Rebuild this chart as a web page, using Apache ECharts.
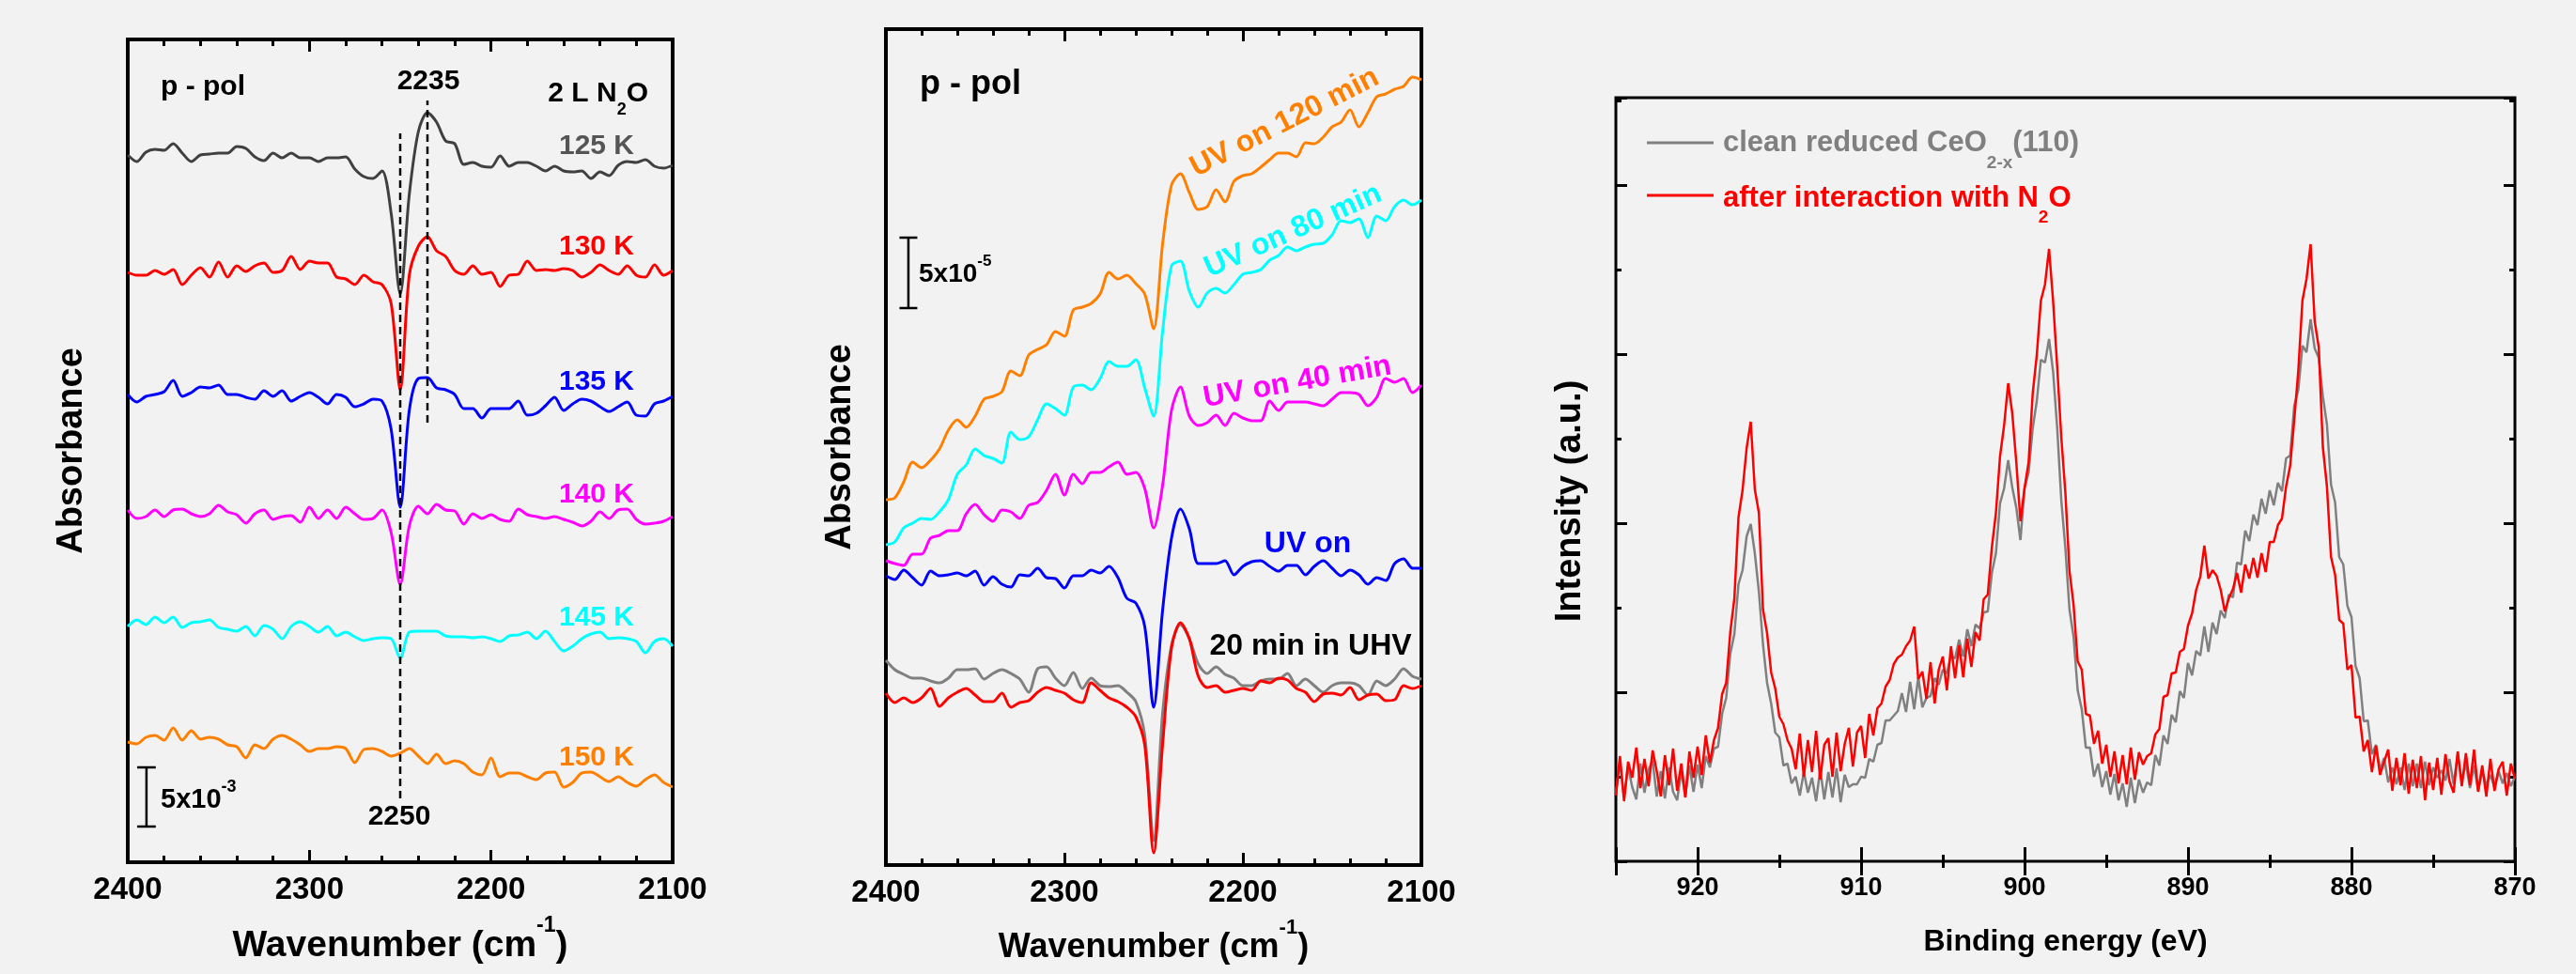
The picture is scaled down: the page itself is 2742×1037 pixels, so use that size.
<!DOCTYPE html>
<html>
<head>
<meta charset="utf-8">
<script src="https://cdn.jsdelivr.net/npm/echarts@6.0.0/dist/echarts.min.js"></script>
<style>
html,body{margin:0;padding:0;background:#f2f2f2;}
#chart{width:2742px;height:1037px;}
</style>
</head>
<body>
<div id="chart"></div>
<script>
// ================= DATA =================
// IR spectra sampling grid (cm^-1), 2400 -> 2100 every 5 cm^-1
const wavenumbers = Array.from({length: 61}, (_, i) => 2400 - 5 * i);
const irTicks = [2100, 2200, 2300, 2400];

// Panel 1: 2 L N2O, temperature series (offset absorbance, a.u.)
const k125 = [75.3,74.6,75.6,75.9,75.8,76.5,75.5,74.6,75.3,75.4,75.5,75.5,76.2,76.0,75.1,74.7,75.5,75.0,75.5,75.0,75.0,74.6,75.0,75.0,75.1,73.8,73.0,72.8,73.6,69.1,60.5,71.1,77.8,79.8,78.8,76.8,76.5,74.3,74.5,74.1,74.0,75.2,74.1,74.5,74.5,74.1,73.6,74.1,73.6,73.5,73.6,72.8,73.5,73.1,74.2,74.6,74.5,74.8,74.1,73.9,74.2];
const k130 = [62.8,62.5,62.5,63.0,62.6,63.1,61.5,62.5,63.3,62.3,63.9,62.3,63.5,62.9,63.5,63.8,62.8,63.0,64.5,63.1,64.0,63.8,63.8,62.3,62.1,61.5,62.5,61.8,61.5,59.5,50.3,62.5,65.6,66.6,65.1,64.5,63.0,62.6,63.5,62.6,62.8,61.3,62.5,62.6,64.0,63.0,63.1,63.0,63.2,63.0,62.3,62.8,63.6,63.0,62.6,63.5,62.5,62.3,63.6,62.5,63.0];
const k135 = [49.8,49.0,49.6,49.8,50.1,51.3,49.6,50.0,50.6,50.5,50.8,49.8,49.8,49.5,49.3,50.2,49.6,50.2,49.1,49.6,50.0,49.5,48.8,49.8,49.5,48.5,48.8,49.3,49.1,46.1,37.8,48.1,51.5,51.6,50.5,50.3,49.8,48.3,48.3,47.3,48.3,48.3,48.3,49.1,47.6,47.8,48.6,49.5,48.1,48.8,49.3,49.1,48.5,48.0,48.5,49.0,47.6,47.5,48.8,49.1,49.6];
const k140 = [37.5,36.6,36.8,37.5,36.8,37.5,37.6,37.1,36.8,37.1,38.0,37.3,37.0,36.1,37.1,37.5,36.5,36.8,36.9,36.2,37.8,36.6,37.5,36.6,37.8,37.1,36.5,36.6,37.5,35.1,29.6,35.8,37.9,37.1,38.1,37.5,37.4,36.0,37.1,36.6,37.0,36.5,36.3,37.6,37.0,36.8,36.6,36.8,36.5,36.2,35.8,36.3,37.3,36.6,37.5,37.6,36.5,36.0,36.1,36.3,36.8];
const k145 = [25.1,25.8,25.3,26.1,25.5,26.1,25.0,25.5,25.6,25.8,25.0,24.8,24.6,25.1,24.1,25.2,24.8,23.8,25.1,25.6,25.1,24.5,25.1,24.1,24.5,24.0,23.6,23.8,23.9,23.8,21.7,24.5,24.6,24.6,24.6,24.1,24.0,24.0,23.9,24.0,23.8,23.5,24.1,24.2,24.5,23.8,24.6,23.5,22.5,23.0,23.8,24.3,24.5,23.8,23.9,23.8,23.5,22.3,23.5,23.8,23.0];
const k150 = [12.8,12.6,13.3,13.5,13.0,14.3,13.0,14.0,13.1,13.3,13.1,12.5,12.3,11.1,12.5,12.1,13.1,13.5,13.1,12.5,11.8,12.1,12.1,12.3,12.1,10.6,12.0,12.1,11.8,11.3,11.6,12.1,11.3,10.5,11.5,10.5,10.8,10.5,9.6,9.3,11.1,9.1,9.5,9.5,9.1,8.8,9.5,9.6,8.0,8.5,9.5,9.6,9.1,8.6,9.1,8.5,8.1,8.8,9.3,8.5,8.0];

// Panel 2: UV irradiation series (offset absorbance, a.u.)
const uv120 = [38.9,39.1,40.8,42.9,42.3,43.1,44.3,46.3,47.4,46.6,47.8,49.6,49.9,50.4,52.6,52.1,54.3,54.9,55.4,56.8,56.3,59.1,59.4,59.8,60.8,63.1,62.4,62.8,61.9,60.8,57.1,66.1,72.4,73.6,71.6,69.8,70.1,71.9,70.6,72.8,73.4,73.6,74.3,75.1,75.8,75.8,75.4,76.9,76.8,77.5,78.6,79.1,80.4,78.6,80.1,81.8,82.1,82.6,82.9,83.9,83.6];
const uv80 = [34.1,34.4,35.9,36.4,36.9,36.8,37.6,38.9,41.6,42.6,44.3,43.6,43.3,42.8,46.1,45.3,45.6,47.4,49.1,48.6,47.9,50.9,51.1,50.6,51.8,53.6,53.1,53.1,53.8,50.8,47.8,56.8,63.8,64.3,61.1,59.4,60.9,61.4,60.9,61.8,62.9,63.1,63.4,64.4,64.9,65.8,65.4,65.8,66.1,66.2,67.1,68.6,68.4,68.8,66.8,69.1,68.6,70.1,70.8,70.3,70.8];
const uv40 = [32.4,32.1,31.9,33.1,33.1,34.8,35.1,35.6,35.6,37.4,38.4,37.3,36.6,37.8,37.6,36.9,38.3,38.6,39.9,41.6,39.4,41.6,40.6,41.8,41.8,42.4,42.9,41.6,41.8,40.1,35.9,40.4,48.4,50.9,47.8,46.8,47.1,47.9,46.8,48.1,47.6,47.3,47.3,49.4,48.4,49.3,49.3,49.3,49.1,48.9,49.6,50.3,50.3,50.1,48.9,49.8,51.8,51.4,51.8,50.3,51.1];
const uvOn = [30.8,30.4,31.4,30.6,29.8,31.3,30.8,30.9,31.1,30.8,31.3,29.8,30.7,29.9,29.6,30.9,30.8,31.6,30.6,30.5,29.5,30.8,30.8,31.4,31.1,31.8,30.6,28.4,27.9,25.4,16.8,27.1,34.8,37.9,35.8,32.1,32.1,32.1,32.4,30.9,31.8,32.3,32.4,31.8,31.3,31.9,31.9,30.9,31.8,32.4,31.6,30.8,31.4,30.9,29.9,30.6,30.3,32.1,32.6,31.6,31.6];
const uhvBefore = [21.8,20.8,20.3,19.9,19.9,19.6,19.4,19.9,20.8,20.8,20.9,19.8,20.4,20.8,20.4,19.8,18.4,20.9,21.1,19.9,19.1,20.5,18.8,19.9,19.1,19.0,19.1,18.4,17.4,13.8,2.6,16.1,23.4,25.6,24.1,21.4,20.4,21.1,20.3,19.9,19.1,19.1,19.6,19.8,19.8,20.4,19.1,19.8,19.1,18.4,19.1,19.4,19.4,19.1,18.1,19.6,19.1,19.8,20.9,20.1,19.8];
const uhv20 = [18.3,17.3,17.8,17.3,17.8,18.8,16.9,17.8,18.4,18.8,18.1,17.4,17.4,18.3,16.8,17.3,17.5,18.4,18.9,18.6,18.3,17.6,17.3,19.4,18.6,17.8,17.4,16.8,15.8,12.8,1.3,12.8,23.1,25.8,24.1,20.1,18.9,19.1,18.4,18.6,18.8,18.6,19.6,19.4,19.9,19.7,18.8,18.4,17.4,18.2,18.3,18.1,18.9,17.6,18.1,18.2,17.5,17.6,19.1,18.8,19.1];

// Panel 3: Ce 3d XPS, 925 -> 870 eV every 0.25 eV (intensity, a.u.)
const bindingEnergy = Array.from({length: 221}, (_, i) => +(925 - 0.25 * i).toFixed(2));
const xpsTicks = [870, 880, 890, 900, 910, 920];
const xpsClean = [
7.2,10.6,6.8,10.1, 7.9,6.6,10.4,7.3, 9.8,10.7,6.9,9.6, 6.7,10.0,7.4,6.5, 9.6,6.9,10.2,7.4,
10.3,7.8,11.2,10.0, 12.0,12.2,15.7,17.4, 22.1,24.2,29.5,31.0, 34.6,35.9,32.8,28.7, 23.1,19.0,16.8,13.7,
13.2,10.2,10.4,8.3, 9.0,7.0,9.5,7.3, 8.9,6.4,9.8,6.6, 9.5,6.8,9.9,6.3, 9.2,7.9,8.2,8.2,
9.0,8.9,10.9,10.6, 12.4,12.6,15.0,15.0, 15.5,16.0,17.9,15.9, 19.1,16.2,19.6,16.4, 17.4,17.6,19.5,18.8,
20.4,20.0,21.9,21.6, 23.6,21.8,24.7,22.9, 25.2,24.8,26.5,26.6, 30.7,32.8,38.1,39.7, 42.7,39.8,37.6,34.2,
39.7,41.4,46.1,49.0, 53.4,53.1,55.6,52.1, 46.1,38.4,33.3,26.8, 23.9,18.2,16.2,12.1, 12.1,9.0,10.4,7.9,
9.6,7.1,9.3,6.5, 8.3,5.8,8.9,6.2, 8.7,7.3,8.4,8.1, 11.3,10.2,13.4,12.5, 15.6,14.8,18.1,17.4,
21.1,19.8,22.4,21.9, 25.0,22.3,25.4,24.2, 26.7,25.9,28.4,28.1, 31.8,31.6,35.2,34.1, 36.9,35.8,38.6,37.0,
39.5,37.9,40.3,39.4, 42.9,43.2,48.5,50.2, 54.9,54.2,57.7,54.6, 53.6,49.5,46.5,40.1, 38.2,32.4,31.6,27.2,
26.0,20.8,19.5,14.9, 15.0,11.4,12.4,9.7, 11.0,8.4,10.0,8.2, 10.0,7.6,10.4,8.0, 10.4,7.8,10.6,8.1,
10.0,8.9,9.7,8.6, 10.9,8.2,11.4,8.6, 10.4,7.8,10.2,7.5, 9.6,8.1,9.2,7.9, 9.6,8.3,9.4,8.0,
9.0];
const xpsAfterN2O = [
7.0,11.2,6.4,10.6, 8.9,12.1,7.8,10.9, 8.0,11.8,9.6,6.9, 11.3,8.1,12.0,7.5, 10.4,6.8,11.7,8.9,
12.2,9.2,13.4,10.5, 12.9,14.2,17.8,19.0, 24.4,28.0,36.6,39.5, 44.0,46.8,39.6,37.1, 26.8,24.3,20.1,18.4,
15.4,14.6,12.9,12.0, 9.8,13.6,9.0,12.9, 9.5,13.9,8.7,12.4, 13.1,9.0,13.7,9.6, 12.5,14.2,10.1,13.7,
14.4,11.0,15.7,13.4, 16.3,16.8,18.6,19.3, 21.0,21.7,22.0,22.9, 23.5,25.0,19.4,20.2, 17.3,21.2,16.8,20.4,
21.8,18.2,22.9,19.5, 23.0,19.6,23.7,20.7, 24.4,23.5,27.9,28.4, 33.4,37.1,43.1,46.4, 50.9,47.7,42.4,36.2,
39.7,42.5,49.8,53.9, 59.7,61.4,65.2,59.6, 52.6,45.1,39.2,30.9, 27.3,21.3,20.4,15.7, 15.5,12.5,13.9,10.4,
12.4,9.0,11.7,8.3, 11.3,8.2,12.1,8.7, 11.6,10.3,11.2,11.5, 13.5,14.1,17.5,17.7, 20.0,20.1,22.3,22.6,
25.1,26.4,28.9,30.3, 33.6,30.1,31.0,30.4, 28.9,26.6,28.0,29.0, 30.7,28.6,31.6,30.1, 32.3,30.2,32.8,30.8,
34.0,34.0,35.8,36.5, 39.9,42.1,47.0,52.3, 59.7,62.0,65.7,57.5, 54.7,44.1,39.9,32.4, 30.5,25.7,25.3,20.4,
20.9,15.3,15.4,11.7, 12.9,9.5,12.3,9.2, 10.6,11.9,7.5,11.0, 8.1,11.5,7.2,10.8, 7.8,11.2,6.5,10.5,
7.6,11.0,7.1,11.4, 8.5,7.3,11.7,8.0, 11.5,8.1,11.9,7.4, 10.2,6.9,10.9,7.5, 9.8,10.6,7.0,10.4,
8.8];

// Annotation marks (data coordinates): peak guides and scale bars
const guide2250 = [2250, 6.8, 77.6];
const guide2235 = [2235, 46.8, 81.1];
const scaleBarA = [2389.7, 5.1, 3.8, 10.1];   // x, half cap width, y0, y1 (5x10^-3)
const scaleBarB = [2387.4, 5.0, 59.3, 66.8];  // (5x10^-5)

// ================= CHART =================
const F = "'Liberation Sans', Arial, Helvetica, sans-serif";
const B = s => `bold ${s}px ${F}`;

function wnRich(size) {
  return {
    a: {fontSize: size, fontWeight: 'bold', fontFamily: F, color: '#000', lineHeight: size, padding: [14, 0, 0, 0], verticalAlign: 'top'},
    s: {fontSize: Math.round(size * 0.6), fontWeight: 'bold', fontFamily: F, color: '#000', lineHeight: Math.round(size * 0.6), verticalAlign: 'top'}
  };
}

function irX(grid, pos, withLabel, titleSize) {
  return {
    type: 'value', gridIndex: grid, position: pos,
    min: irTicks[0], max: irTicks[irTicks.length - 1], interval: irTicks[1] - irTicks[0], inverse: true,
    axisLine: {show: false},
    axisTick: {show: true, inside: true, length: 13, lineStyle: {color: '#000', width: 3}},
    minorTick: {show: true, splitNumber: 5, length: 7, lineStyle: {color: '#000', width: 3}},
    axisLabel: {show: withLabel, margin: 13, color: '#000', fontFamily: F, fontWeight: 'bold', fontSize: 33,
      formatter: v => String(v)},
    splitLine: {show: false}, minorSplitLine: {show: false},
    name: withLabel ? '{a|Wavenumber (cm}{s|-1}{a|)}' : '',
    nameLocation: 'middle', nameGap: 56,
    nameTextStyle: {rich: wnRich(titleSize || 36)}
  };
}
function xpsX(pos, withLabel) {
  return {
    type: 'value', gridIndex: 2, position: pos,
    min: xpsTicks[0], max: 925, interval: xpsTicks[1] - xpsTicks[0], inverse: true,
    axisLine: {show: false},
    axisTick: {show: true, inside: true, length: 15, lineStyle: {color: '#000', width: 3}},
    minorTick: {show: true, splitNumber: 2, length: 7, lineStyle: {color: '#000', width: 3}},
    axisLabel: {show: withLabel, margin: 15, color: '#000', fontFamily: F, fontWeight: 'bold', fontSize: 27,
      formatter: v => (xpsTicks.indexOf(v) >= 0 ? String(v) : '')},
    splitLine: {show: false}, minorSplitLine: {show: false},
    name: withLabel ? 'Binding energy (eV)' : '',
    nameLocation: 'middle', nameGap: 70,
    nameTextStyle: {fontFamily: F, fontWeight: 'bold', fontSize: 32, color: '#000'}
  };
}
function hiddenY(grid, max, name, gap) {
  return {
    type: 'value', gridIndex: grid, min: 0, max: max,
    axisLine: {show: false}, axisTick: {show: false}, axisLabel: {show: false}, splitLine: {show: false},
    name: name, nameLocation: 'middle', nameGap: gap,
    nameTextStyle: {fontFamily: F, fontWeight: 'bold', fontSize: 38, color: '#000'}
  };
}
function xpsY(pos, withName) {
  return {
    type: 'value', gridIndex: 2, position: pos, min: 0, max: 81.3, interval: 18,
    axisLine: {show: false},
    axisTick: {show: true, inside: true, length: 12, lineStyle: {color: '#000', width: 3}},
    minorTick: {show: true, splitNumber: 2, length: 6, lineStyle: {color: '#000', width: 3}},
    axisLabel: {show: false}, splitLine: {show: false}, minorSplitLine: {show: false},
    name: withName ? 'Intensity (a.u.)' : '', nameLocation: 'middle', nameGap: 29,
    nameTextStyle: {fontFamily: F, fontWeight: 'bold', fontSize: 38, color: '#000', padding: [0, 46, 0, 0]}
  };
}

function spec(xi, yi, xs, ys, color, width, smooth) {
  return {
    type: 'line', xAxisIndex: xi, yAxisIndex: yi,
    data: xs.map((x, i) => [x, ys[i]]),
    showSymbol: false, symbol: 'none', smooth: smooth, silent: true,
    lineStyle: {color: color, width: width}, itemStyle: {color: color}
  };
}
function guide(xi, yi, g) {
  return {type: 'line', xAxisIndex: xi, yAxisIndex: yi, data: [[g[0], g[1]], [g[0], g[2]]],
    showSymbol: false, symbol: 'none', silent: true,
    lineStyle: {color: '#000', width: 2.5, type: [8, 5]}};
}
function scaleBar(xi, yi, s) {
  const [x, h, y0, y1] = s;
  return {type: 'line', xAxisIndex: xi, yAxisIndex: yi,
    data: [[x + h, y0], [x - h, y0], [x, y0], [x, y1], [x + h, y1], [x - h, y1]],
    showSymbol: false, symbol: 'none', silent: true,
    lineStyle: {color: '#000', width: 2.5}};
}

function label(text, x, y, size, color, align, rotDeg) {
  return {type: 'text', x: x, y: y, rotation: (rotDeg || 0) * Math.PI / 180, z: 10,
    style: {text: text, font: B(size), fill: color || '#000',
      align: align || 'center', textAlign: align || 'center', verticalAlign: 'middle', textVerticalAlign: 'middle'}};
}
function tok(font, lh, padTop, color) {
  return {font: font, lineHeight: lh, padding: [padTop, 0, 0, 0], verticalAlign: 'top', textVerticalAlign: 'top', fill: color, color: color};
}
function richLabel(text, x, y, align, rich, color) {
  return {type: 'text', x: x, y: y, z: 10,
    style: {text: text, rich: rich, fill: color, align: align, textAlign: align, verticalAlign: 'top', textVerticalAlign: 'top'}};
}

const option = {
  animation: false,
  backgroundColor: '#f2f2f2',
  grid: [
    {left: 136, top: 42, width: 580, height: 876, show: true, borderColor: '#000', borderWidth: 4, backgroundColor: 'transparent'},
    {left: 943, top: 31, width: 570, height: 890, show: true, borderColor: '#000', borderWidth: 4, backgroundColor: 'transparent'},
    {left: 1720, top: 104, width: 957, height: 813, show: true, borderColor: '#000', borderWidth: 3, backgroundColor: 'transparent'}
  ],
  xAxis: [irX(0, 'bottom', true, 39), irX(0, 'top', false), irX(1, 'bottom', true, 36), irX(1, 'top', false), xpsX('bottom', true), xpsX('top', false)],
  yAxis: [hiddenY(0, 87.6, 'Absorbance', 40), hiddenY(1, 89, 'Absorbance', 29), xpsY('left', true), xpsY('right', false)],
  series: [
    spec(0, 0, wavenumbers, k125, '#404040', 3, 0.3),
    spec(0, 0, wavenumbers, k130, '#ff0000', 3, 0.3),
    spec(0, 0, wavenumbers, k135, '#0000ff', 3, 0.3),
    spec(0, 0, wavenumbers, k140, '#ff00ff', 3, 0.3),
    spec(0, 0, wavenumbers, k145, '#00ffff', 3, 0.3),
    spec(0, 0, wavenumbers, k150, '#ff8000', 3, 0.3),
    guide(0, 0, guide2250), guide(0, 0, guide2235), scaleBar(0, 0, scaleBarA),
    spec(2, 1, wavenumbers, uv120, '#ff8000', 3, 0.3),
    spec(2, 1, wavenumbers, uv80, '#00ffff', 3, 0.3),
    spec(2, 1, wavenumbers, uv40, '#ff00ff', 3, 0.3),
    spec(2, 1, wavenumbers, uvOn, '#0000ff', 3, 0.3),
    spec(2, 1, wavenumbers, uhvBefore, '#808080', 3, 0.3),
    spec(2, 1, wavenumbers, uhv20, '#ff0000', 3, 0.3),
    scaleBar(2, 1, scaleBarB),
    spec(4, 2, bindingEnergy, xpsClean, '#808080', 2.5, false),
    spec(4, 2, bindingEnergy, xpsAfterN2O, '#ff0000', 2.5, false)
  ],
  graphic: {elements: [
    // panel 1
    label('p - pol', 171, 93, 30, '#000', 'left'),
    label('2235', 456, 87, 30),
    richLabel('{a|2 L N}{s|2}{a|O}', 690, 85, 'right', {a: tok(B(30), 30, 0, '#000'), s: tok(B(18), 18, 23, '#000')}, '#000'),
    label('125 K', 675, 156, 30, '#555555', 'right'),
    label('130 K', 675, 263, 30, '#ff0000', 'right'),
    label('135 K', 675, 407, 30, '#0000ff', 'right'),
    label('140 K', 675, 527, 30, '#ff00ff', 'right'),
    label('145 K', 675, 658, 30, '#00ffff', 'right'),
    label('150 K', 675, 807, 30, '#ff8000', 'right'),
    richLabel('{a|5x10}{s|-3}', 171, 827.5, 'left', {a: tok(B(29), 29, 10, '#000'), s: tok(B(18), 18, 2, '#000')}, '#000'),
    label('2250', 425, 870, 30),
    // panel 2
    label('p - pol', 979, 90.5, 36, '#000', 'left'),
    richLabel('{a|5x10}{s|-5}', 978, 268, 'left', {a: tok(B(28), 28, 10, '#000'), s: tok(B(17), 17, 2, '#000')}, '#000'),
    label('UV on 120 min', 1367.5, 130.5, 32, '#ff8000', 'center', 27),
    label('UV on 80 min', 1376.5, 246, 32, '#00ffff', 'center', 24),
    label('UV on 40 min', 1381, 407, 32, '#ff00ff', 'center', 10),
    label('UV on', 1392, 579, 32, '#0000ff'),
    label('20 min in UHV', 1395, 688, 32, '#000'),
    // panel 3 legend
    {type: 'line', z: 10, shape: {x1: 1753, y1: 152, x2: 1824, y2: 152}, style: {stroke: '#808080', lineWidth: 3}},
    richLabel('{a|clean reduced CeO}{s|2-x}{a|(110)}', 1834, 136.5, 'left', {a: tok(B(31), 31, 0, '#808080'), s: tok(B(19), 19, 28, '#808080')}, '#808080'),
    {type: 'line', z: 10, shape: {x1: 1753, y1: 208, x2: 1824, y2: 208}, style: {stroke: '#ff0000', lineWidth: 3}},
    richLabel('{a|after interaction with N}{s|2}{a|O}', 1834, 195.5, 'left', {a: tok(B(31), 31, 0, '#ff0000'), s: tok(B(19), 19, 27, '#ff0000')}, '#ff0000')
  ]}
};

const chart = echarts.init(document.getElementById('chart'), null, {renderer: 'canvas', width: 2742, height: 1037});
chart.setOption(option);
</script>
</body>
</html>
